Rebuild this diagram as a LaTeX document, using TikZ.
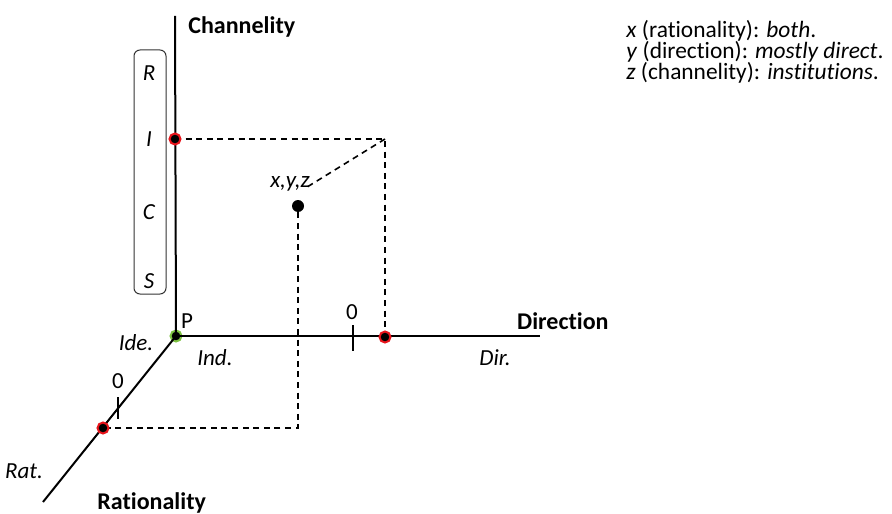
\documentclass[tikz,border=0pt]{standalone}
\usepackage{fontspec}
\setmainfont{Carlito}[RawFeature=-liga]
\usetikzlibrary{positioning, calc}
\definecolor{dotred}{HTML}{E8141B}
\definecolor{dotgreen}{HTML}{7DC242}
\tikzset{
    axis/.style={line width=1pt, draw=black},
    guide/.style={line width=0.8pt, draw=black, dash pattern=on 3pt off 2.3pt},
    reddot/.style={circle, fill=black, draw=dotred, line width=1pt, inner sep=0pt, minimum size=5.5pt},
    greendot/.style={reddot, draw=dotgreen},
    blackdot/.style={circle, fill=black, inner sep=0pt, minimum size=6pt},
    axislabel/.style={font=\fontsize{12}{14}\selectfont\bfseries, inner sep=0pt},
    endlabel/.style={font=\fontsize{11.5}{14}\selectfont\itshape, inner sep=0pt},
    plainlabel/.style={font=\fontsize{11.5}{14}\selectfont, inner sep=0pt},
    typebox/.style={rectangle, draw=black!80, rounded corners=3pt, line width=0.5pt, minimum width=16pt, minimum height=122pt},
    legend/.style={font=\fontsize{11.7}{14}\selectfont, inner sep=0pt, anchor=west}
}

\begin{document}
\begin{tikzpicture}[x=0.5pt, y=-0.5pt]
    \useasboundingbox (0,0) rectangle (892,513);

    % axes
    \node[greendot] (P) at (176,336) {};
    \coordinate (chantop) at (175,16);
    \coordinate (dirend) at (540,336);
    \coordinate (ratend) at (43,502);
    \draw[axis] (P.center) -- (chantop);
    \draw[axis] (P.center) -- (dirend);
    \draw[axis] (P.center) -- (ratend);

    % ticks at zero
    \coordinate (dirzero) at (353,336);
    \coordinate (ratzero) at (118,408);
    \draw[axis] (dirzero) ++(0,-11) -- ++(0,26);
    \draw[axis] (ratzero) ++(0,-11) -- ++(0,22);
    \node[plainlabel] (dirzerolab) at (352,312) {0};
    \node[plainlabel] (ratzerolab) at (118,381) {0};

    % projections
    \coordinate (corner) at (385,139);
    \node[blackdot] (xyz) at (298,206) {};
    \node[endlabel] (xyzlab) at (290,184) {x,y,z};
    \coordinate (xfoot) at (298,428);
    \draw[guide] (175,139) -- (corner) -- (385,336);
    \draw[guide] (corner) -- ($(xyzlab.east)+(-3,3)$);
    \draw[guide] (xyz) -- (xfoot) -- (103,428);
    \node[reddot] (zdot) at (175,139) {};
    \node[reddot] (ydot) at (385,337) {};
    \node[reddot] (xdot) at (103,428) {};

    % RICS box
    \node[typebox] (rics) at (150,172) {};
    \node[endlabel] (r) at (149,73) {R};
    \node[endlabel] (i) at (149,139) {I};
    \node[endlabel] (c) at (149,212) {C};
    \node[endlabel] (s) at (149,281) {S};

    % labels
    \node[axislabel, anchor=west] (chanlab) at (188,27) {Channelity};
    \node[axislabel, anchor=east] (dirlab) at (609,321) {Direction};
    \node[axislabel, anchor=west] (ratlab) at (97,503) {Rationality};
    \node[plainlabel] (plab) at (187,321) {P};
    \node[endlabel] (ide) at (136,343) {Ide.};
    \node[endlabel] (ind) at (215,358) {Ind.};
    \node[endlabel] (dir) at (495,358) {Dir.};
    \node[endlabel] (rat) at (24,471) {Rat.};

    % legend
    \node[legend] (lx) at (626,31) {\textit{x} (rationality): \textit{both}.};
    \node[legend] (ly) at (626,52) {\textit{y} (direction): \textit{mostly direct}.};
    \node[legend] (lz) at (626,73) {\textit{z} (channelity): \textit{institutions}.};
\end{tikzpicture}
\end{document}
